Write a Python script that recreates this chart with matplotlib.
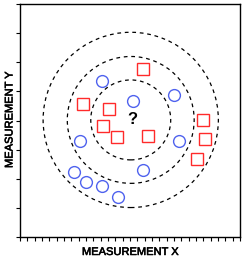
import matplotlib
matplotlib.use("Agg")
import matplotlib.pyplot as plt
from matplotlib.patches import Ellipse
import matplotlib.patheffects as pe

# Data (x in 0..30 units, y in 0..8 units)
square_x = [16.8, 8.55, 12.1, 24.95, 11.3, 13.2, 17.4, 25.2, 24.1]
square_y = [5.76, 4.56, 4.39, 4.01, 3.81, 3.44, 3.47, 3.36, 2.68]
circle_x = [11.15, 15.35, 21.05, 8.2, 21.7, 16.8, 7.3, 9.05, 11.2, 13.3]
circle_y = [5.37, 4.68, 4.87, 3.30, 3.30, 2.31, 2.24, 1.88, 1.76, 1.37]
center = (15.1, 4.02)
radii_x = [5.45, 8.65, 11.95]  # radii in x-units
x_max, y_max = 30, 8

W, H = 249, 260
fig = plt.figure(figsize=(W / 100, H / 100), dpi=100)
ax = fig.add_axes([20 / W, 23 / H, 220 / W, 233 / H])
ax.set_xlim(0, x_max)
ax.set_ylim(0, y_max)

# pixel scale ratio to keep circles round
px_per_x = 220 / x_max
px_per_y = 233 / y_max
for r in radii_x:
    e = Ellipse(center, 2 * r, 2 * r * px_per_x / px_per_y, fill=False,
                edgecolor='black', linestyle=(0, (3, 3)), linewidth=0.9)
    ax.add_patch(e)

ax.plot(square_x, square_y, linestyle='none', marker='s', markersize=8.2,
        markerfacecolor='white', markeredgecolor='#ff2a2a', markeredgewidth=1.0)
ax.plot(circle_x, circle_y, linestyle='none', marker='o', markersize=8.5,
        markerfacecolor='white', markeredgecolor='#4f62ee', markeredgewidth=1.0)

ax.text(center[0] + 0.2, center[1] + 0.02, '?', ha='center', va='center',
        fontsize=12, fontweight='bold', family='Liberation Sans')

ax.set_xticks(range(0, x_max + 1))
ax.set_yticks(range(0, y_max + 1))
ax.set_xticklabels([])
ax.set_yticklabels([])
ax.tick_params(axis='x', direction='out', length=3, width=0.8)
ax.tick_params(axis='y', direction='out', length=3, width=0.8)
for s in ax.spines.values():
    s.set_linewidth(1.0)

thick = [pe.withStroke(linewidth=0.4, foreground='black')]
fig.text(130 / W, 1 - 252 / H, 'MEASUREMENT X', family='Liberation Sans',
         fontsize=8, ha='center', va='center', path_effects=thick)
fig.text(9.5 / W, 1 - 120 / H, 'MEASUREMENT Y', family='Liberation Sans',
         fontsize=8, ha='center', va='center', rotation=90, path_effects=thick)

fig.savefig('out.png', dpi=100)
